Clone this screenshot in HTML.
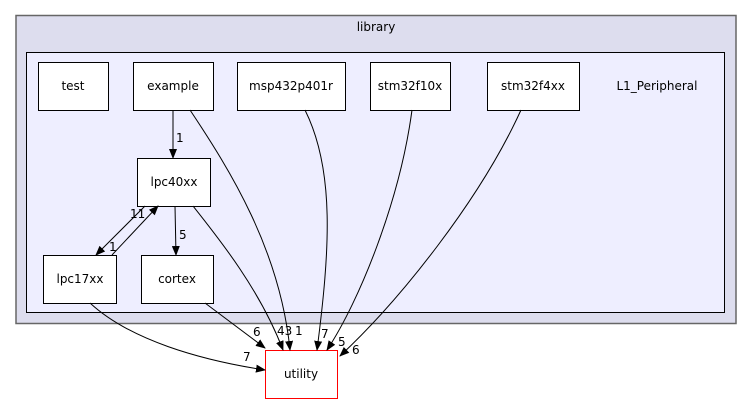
<html><body style="margin:0;background:#fff">
<svg width="752" height="404" xmlns="http://www.w3.org/2000/svg" font-family="DejaVu Sans, Liberation Sans, sans-serif" font-size="12">
<defs><marker id="a" markerWidth="10" markerHeight="8" refX="9" refY="4" orient="auto" markerUnits="userSpaceOnUse"><path d="M0,0L10,4L0,8z" fill="#000"/></marker></defs>
<rect x="16" y="15.5" width="720" height="308" fill="#ddddee" stroke="#666" stroke-width="1.5"/>
<text x="376" y="31" text-anchor="middle">library</text>
<rect x="26.5" y="52.5" width="698" height="260" fill="#eeeeff" stroke="#000"/>
<text x="657" y="90" text-anchor="middle">L1_Peripheral</text>
<g fill="#fff" stroke="#000">
<rect x="38.5" y="62.5" width="70" height="48"/>
<rect x="133.5" y="62.5" width="80" height="48"/>
<rect x="237.5" y="62.5" width="108" height="48"/>
<rect x="370.5" y="62.5" width="80" height="48"/>
<rect x="487.5" y="62.5" width="92" height="48"/>
<rect x="137.5" y="158.5" width="73" height="48"/>
<rect x="43.5" y="255.5" width="73" height="48"/>
<rect x="141.5" y="255.5" width="72" height="48"/>
<rect x="265.5" y="350.5" width="72" height="48" stroke="#f00"/>
</g>
<g text-anchor="middle">
<text x="73" y="90">test</text><text x="173" y="90">example</text><text x="291" y="90">msp432p401r</text>
<text x="410" y="90">stm32f10x</text><text x="533" y="90">stm32f4xx</text>
<text x="174" y="186">lpc40xx</text><text x="80" y="283">lpc17xx</text><text x="177" y="283">cortex</text>
<text x="301" y="378">utility</text>
</g>
<g fill="none" stroke="#000" marker-end="url(#a)">
<path d="M173,110L173,158"/>
<path d="M190,110C230,170 280,250 290,350"/>
<path d="M305,110C335,170 330,250 317,350"/>
<path d="M412,110C400,200 360,300 327,350"/>
<path d="M521,110C480,200 400,300 340,356"/>
<path d="M193,206C220,240 260,290 283,350"/>
<path d="M145,206L96,255"/>
<path d="M112,255L158,206"/>
<path d="M175,206L176,255"/>
<path d="M205,303L265,348"/>
<path d="M90,303C130,340 200,360 265,370"/>
</g>
<g font-size="12">
<text x="176" y="142">1</text><text x="130" y="218">11</text><text x="109" y="251">1</text>
<text x="179" y="239">5</text><text x="253" y="336">6</text><text x="277" y="335">43</text>
<text x="295" y="335">1</text><text x="321" y="338">7</text><text x="338" y="346">5</text>
<text x="352" y="354">6</text><text x="243" y="361">7</text>
</g>
</svg>
</body></html>
